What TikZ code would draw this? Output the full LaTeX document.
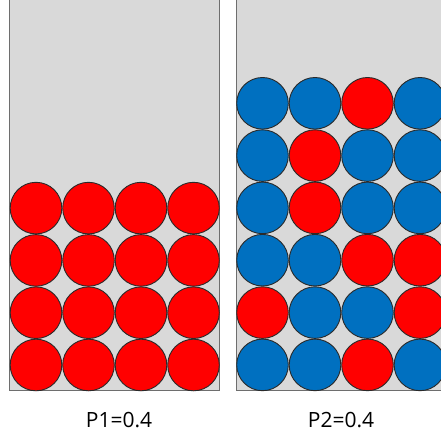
\documentclass[tikz,border=0pt]{standalone}
\usepackage{fontspec}
\setmainfont{Open Sans}
\definecolor{boxgray}{HTML}{D9D9D9}
\definecolor{boxline}{HTML}{6E6E6E}
\definecolor{ballred}{HTML}{FF0000}
\definecolor{ballblue}{HTML}{0070C0}
\definecolor{ballline}{HTML}{2A2A2A}
\tikzset{
  box/.style={fill=boxgray,draw=boxline,line width=1pt},
  ball/.style={circle,inner sep=0pt,minimum size=51.6pt,draw=ballline,line width=0.9pt},
  R/.style={ball,fill=ballred},
  B/.style={ball,fill=ballblue},
  lbl/.style={font=\fontsize{21pt}{24pt}\selectfont,inner sep=0pt}
}
\begin{document}
\begin{tikzpicture}[x=1pt,y=-1pt]
\useasboundingbox (0,0) rectangle (441,438);
\clip (0,0) rectangle (441,438);
\fill[white] (0,0) rectangle (441,438);
\draw[box] (9.5,-5) rectangle (219,390.5);
\draw[box] (236.7,-5) rectangle (450,390.5);
% left container: 4x4 red
\foreach \r in {1,...,4}{
  \foreach \c in {1,...,4}{
    \node[R] (L\r\c) at ({36+52.5*(\c-1)},{365-52.3*(4-\r)}) {};
  }
}
% right container: 6 rows
\def\rowcol#1#2#3{%
  \foreach \c/\t in {#3}{
    \node[\t] (R#1\c) at ({262.5+52.5*(\c-1)},{#2}) {};
  }}
\rowcol{1}{103.3}{1/B,2/B,3/R,4/B}
\rowcol{2}{155.6}{1/B,2/R,3/B,4/B}
\rowcol{3}{207.9}{1/B,2/R,3/B,4/B}
\rowcol{4}{260.2}{1/B,2/B,3/R,4/R}
\rowcol{5}{312.6}{1/R,2/B,3/B,4/R}
\rowcol{6}{364.9}{1/B,2/B,3/R,4/B}
\node[lbl] (p1) at (119,420.5) {P1=0.4};
\node[lbl] (p2) at (341,420.5) {P2=0.4};
\end{tikzpicture}
\end{document}
